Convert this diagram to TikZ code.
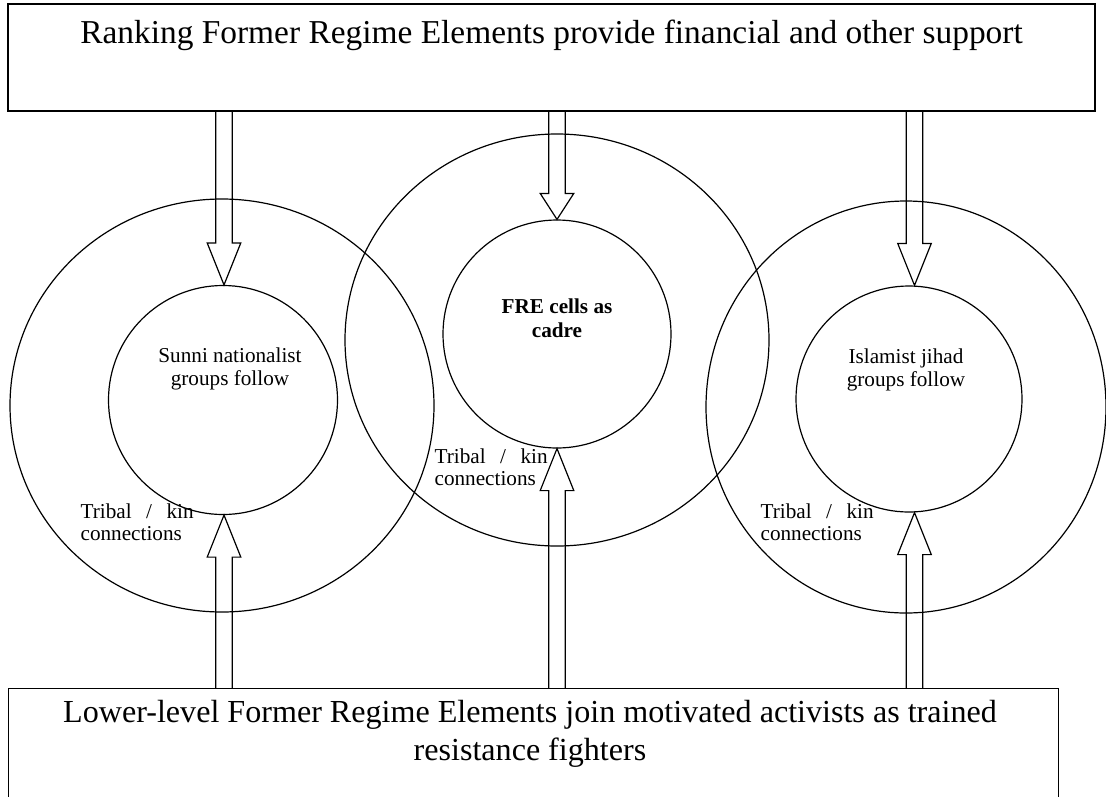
\documentclass[tikz,border=0pt]{standalone}
\usepackage{fontspec}
\setmainfont{Liberation Serif}
\usetikzlibrary{calc,shapes.geometric}
\newcommand\blockarrow[3]{%
  \draw[blockarr] let \p1=#1, \p2=#2, \n1={sign(\y2-\y1)} in
    (\x1-8.3pt,\y1) -- (\x1-8.3pt,{\y2-\n1*#3}) -- (\x1-16.8pt,{\y2-\n1*#3})
    -- (\x1,\y2) -- (\x1+16.8pt,{\y2-\n1*#3}) -- (\x1+8.3pt,{\y2-\n1*#3})
    -- (\x1+8.3pt,\y1);}
\begin{document}
\begin{tikzpicture}[x=1pt,y=-1pt,line width=1.2pt,
  box/.style={draw,rectangle,inner sep=0pt},
  outer/.style={draw,ellipse,inner sep=0pt},
  inner/.style={draw,circle,inner sep=0pt},
  bigtext/.style={font=\fontsize{33.4}{38}\selectfont,align=center,inner sep=0pt},
  smalltext/.style={font=\fontsize{21.2}{23.5}\selectfont,align=center,inner sep=0pt},
  kintext/.style={font=\fontsize{21.2}{22.5}\selectfont,align=left,inner sep=0pt,anchor=west},
  blockarr/.style={draw,line width=1.2pt,line join=miter}]
\useasboundingbox (0,0) rectangle (1106,796);
\fill[white] (0,0) rectangle (1106,796);
\begin{scope}
\clip (0,0) rectangle (1106,796);
% boxes
\node[box,minimum width=1087pt,minimum height=107pt] (top) at (551.5,57.5) {};
\node[box,minimum width=1050pt,minimum height=140pt,anchor=north west] (bot) at (8,688) {};
\node[bigtext] (toptext) at (551.5,35) {Ranking Former Regime Elements provide financial and other support};
\node[bigtext,font=\fontsize{32.1}{38}\selectfont] (bottext) at (530,734) {Lower-level Former Regime Elements join motivated activists as trained\\resistance fighters};
% outer circles
\node[outer,minimum width=424pt,minimum height=413pt] (lout) at (222,405.5) {};
\node[outer,minimum width=424pt,minimum height=412pt] (mout) at (557,340) {};
\node[outer,minimum width=400pt,minimum height=412pt] (rout) at (906,407) {};
% inner circles
\node[inner,minimum size=229pt] (lin) at (223,400) {};
\node[inner,minimum size=228pt] (min) at (557,334) {};
\node[inner,minimum size=226pt] (rin) at (909,399) {};
% texts
\node[smalltext] (ltext) at (230,369) {Sunni nationalist\\groups follow};
\node[smalltext,font=\fontsize{21.2}{24}\selectfont\bfseries] (mtext) at (557,318) {FRE cells as\\cadre};
\node[smalltext] (rtext) at (906,370) {Islamist jihad\\groups follow};
\node[kintext] (lkin) at (80,522) {\makebox[113pt][s]{Tribal / kin}\\connections};
\node[kintext] (mkin) at (434,467) {\makebox[113pt][s]{Tribal / kin}\\connections};
\node[kintext] (rkin) at (760,522) {\makebox[113pt][s]{Tribal / kin}\\connections};
% arrow anchor x positions
\coordinate (xl) at (224,0);
\coordinate (xm) at (557,0);
\coordinate (xr) at (914.5,0);
% down arrows
\blockarrow{(top.south -| xl)}{(lin.north -| xl)}{42pt}
\blockarrow{(top.south -| xm)}{(min.north -| xm)}{26pt}
\blockarrow{(top.south -| xr)}{(rin.north -| xr)}{42pt}
% up arrows
\blockarrow{(bot.north -| xl)}{(lin.south -| xl)}{42pt}
\blockarrow{(bot.north -| xm)}{(min.south -| xm)}{42pt}
\blockarrow{(bot.north -| xr)}{(rin.south -| xr)}{42pt}
\end{scope}
\end{tikzpicture}
\end{document}
